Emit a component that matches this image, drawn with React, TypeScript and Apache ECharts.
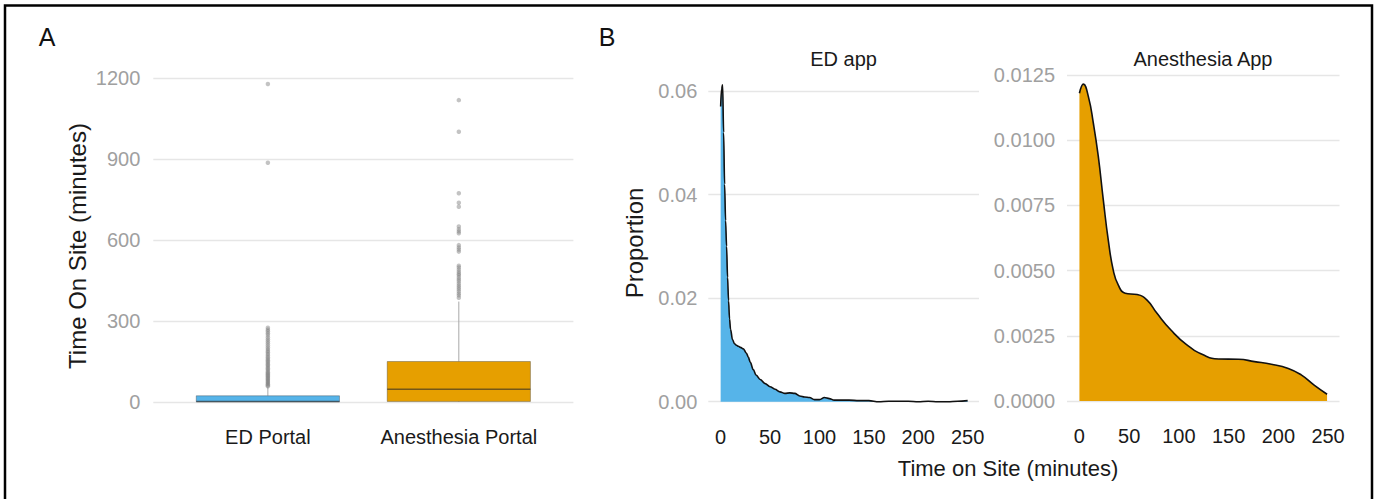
import React, { useEffect, useRef } from "react";
import * as echarts from "echarts";

// ---------- Panel A: box plot data ----------
const portalCategories = ["ED Portal", "Anesthesia Portal"];
// [lower whisker, Q1, median, Q3, upper whisker]
const edPortalBox = [0, 1, 2, 23, 55];
const anesPortalBox = [0, 2, 47, 150, 372];
const edPortalOutliers = [
  58, 62, 66, 70, 74, 78, 82, 86, 90, 94, 98, 102, 106, 110, 115, 120, 125, 130, 135, 140,
  145, 150, 155, 160, 166, 172, 178, 184, 190, 196, 203, 210, 218, 225, 232, 240, 248, 255,
  262, 268, 275, 886, 1178,
];
const anesPortalOutliers = [
  386, 395, 402, 410, 418, 425, 432, 440, 448, 455, 462, 470, 475, 482, 490, 498, 505,
  557, 565, 572, 581, 625, 632, 640, 650, 723, 738, 773, 1001, 1118,
];
const portalTicks = [0, 300, 600, 900, 1200];

// ---------- Panel B: density data ----------
const timeTicks = [0, 50, 100, 150, 200, 250];
const edAppX = [
  0, 1, 2, 3, 4, 5, 6, 7, 8, 9, 10, 12, 14, 16, 18, 20, 23, 26, 28, 30, 33, 36, 40, 45, 50,
  55, 60, 65, 70, 75, 80, 85, 90, 95, 100, 105, 110, 115, 120, 130, 140, 150, 160, 170, 180,
  190, 200, 210, 220, 230, 240, 250,
];
const edAppY = [
  0.057, 0.0605, 0.0612, 0.052, 0.042, 0.035, 0.03, 0.024, 0.0195, 0.016, 0.014, 0.012,
  0.0112, 0.0109, 0.0107, 0.0105, 0.0102, 0.0094, 0.0086, 0.0076, 0.0062, 0.0051, 0.0043,
  0.0035, 0.0029, 0.0024, 0.0019, 0.0016, 0.0017, 0.0016, 0.0011, 0.0009, 0.0008, 0.0004,
  0.0004, 0.0008, 0.0006, 0.0003, 0.0003, 0.0003, 0.0002, 0.0002, 0.0, 0.0001, 0.0001,
  0.0001, 0.0, 0.0001, 0.0, 0.0, 0.0001, 0.0002,
];
const anesAppX = [
  0, 4, 9, 14, 19, 24, 29, 34, 39, 46, 58, 68, 78, 92, 108, 125, 140, 160, 176, 193, 210,
  223, 236, 249,
];
const anesAppY = [
  0.0118, 0.01215, 0.01167, 0.01065, 0.00937, 0.00771, 0.00617, 0.00502, 0.00445, 0.00413,
  0.00408, 0.00387, 0.00336, 0.00272, 0.00215, 0.00176, 0.00161, 0.0016, 0.00151, 0.00141,
  0.00125, 0.001, 0.00061, 0.00026,
];

const BLUE = "#56B4E9";
const ORANGE = "#E69F00";
const FONT = "'Liberation Sans', Arial, Helvetica, sans-serif";
const GRID_LINE = { lineStyle: { color: "#e6e6e6", width: 1.3 } };

export default function App() {
  const ref = useRef<HTMLDivElement>(null);

  useEffect(() => {
    if (!ref.current) return;
    const chart = echarts.init(ref.current, undefined, { renderer: "svg" });

    const boxData = [
      [1, ...edPortalBox],
      [2, ...anesPortalBox],
    ];
    const boxFills = [BLUE, ORANGE];

    const outlierData = [
      ...edPortalOutliers.map((v) => [1, v]),
      ...anesPortalOutliers.map((v) => [2, v]),
    ];

    const timeAxis = (gridIndex: number) => ({
      type: "value",
      gridIndex,
      min: -12.5,
      max: 261.5,
      axisLine: { show: false },
      axisTick: { show: false },
      splitLine: { show: false },
      axisLabel: {
        customValues: timeTicks,
        color: "#1a1a1a",
        fontSize: 20,
        fontFamily: FONT,
        margin: 25,
      },
    });

    const option: any = {
      animation: false,
      textStyle: { fontFamily: FONT },
      grid: [
        { left: 153.3, width: 420.1, top: 78, height: 324 },
        { left: 708.3, width: 270.7, top: 91, height: 310.7 },
        { left: 1067, width: 272.5, top: 75, height: 326 },
      ],
      xAxis: [
        {
          type: "value",
          gridIndex: 0,
          min: 0.4,
          max: 2.6,
          axisLine: { show: false },
          axisTick: { show: false },
          splitLine: { show: false },
          axisLabel: {
            customValues: [1, 2],
            formatter: (v: number) => portalCategories[Math.round(v) - 1] ?? "",
            color: "#1a1a1a",
            fontSize: 20,
            fontFamily: FONT,
            margin: 25,
          },
        },
        timeAxis(1),
        timeAxis(2),
      ],
      yAxis: [
        {
          type: "value",
          gridIndex: 0,
          min: 0,
          max: 1200,
          interval: 300,
          axisLine: { show: false },
          axisTick: { show: false },
          splitLine: GRID_LINE,
          axisLabel: {
            customValues: portalTicks,
            formatter: (v: number) => String(v),
            color: "#a0a0a0",
            fontSize: 20,
            fontFamily: FONT,
            margin: 13,
          },
        },
        {
          type: "value",
          gridIndex: 1,
          min: 0,
          max: 0.06,
          interval: 0.02,
          axisLine: { show: false },
          axisTick: { show: false },
          splitLine: GRID_LINE,
          axisLabel: {
            color: "#a0a0a0",
            fontSize: 20,
            fontFamily: FONT,
            margin: 11,
            formatter: (v: number) => v.toFixed(2),
          },
        },
        {
          type: "value",
          gridIndex: 2,
          min: 0,
          max: 0.0125,
          interval: 0.0025,
          axisLine: { show: false },
          axisTick: { show: false },
          splitLine: GRID_LINE,
          axisLabel: {
            color: "#a0a0a0",
            fontSize: 20,
            fontFamily: FONT,
            margin: 12,
            formatter: (v: number) => v.toFixed(4),
          },
        },
      ],
      series: [
        {
          type: "custom",
          xAxisIndex: 0,
          yAxisIndex: 0,
          data: boxData,
          clip: false,
          renderItem: (params: any, api: any) => {
            const x = api.value(0);
            const lo = api.value(1);
            const q1 = api.value(2);
            const med = api.value(3);
            const q3 = api.value(4);
            const hi = api.value(5);
            const left = api.coord([x - 0.375, q1]);
            const right = api.coord([x + 0.375, q3]);
            const c = api.coord([x, med]);
            const pLo = api.coord([x, lo]);
            const pHi = api.coord([x, hi]);
            const fill = boxFills[params.dataIndex];
            return {
              type: "group",
              children: [
                {
                  type: "line",
                  shape: { x1: pHi[0], y1: pHi[1], x2: c[0], y2: right[1] },
                  style: { stroke: "#a8a8a8", lineWidth: 1 },
                },
                {
                  type: "line",
                  shape: { x1: pLo[0], y1: pLo[1], x2: c[0], y2: left[1] },
                  style: { stroke: "#a8a8a8", lineWidth: 1 },
                },
                {
                  type: "rect",
                  shape: {
                    x: left[0],
                    y: right[1],
                    width: right[0] - left[0],
                    height: left[1] - right[1],
                  },
                  style: { fill, stroke: "rgba(50,50,50,0.35)", lineWidth: 1 },
                },
                {
                  type: "line",
                  shape: { x1: left[0], y1: c[1], x2: right[0], y2: c[1] },
                  style: { stroke: "rgba(40,40,40,0.6)", lineWidth: 1.5 },
                },
              ],
            };
          },
          z: 2,
        },
        {
          type: "scatter",
          xAxisIndex: 0,
          yAxisIndex: 0,
          data: outlierData,
          symbolSize: 4.5,
          itemStyle: { color: "rgba(130,130,130,0.6)" },
          z: 3,
        },
        {
          type: "line",
          xAxisIndex: 1,
          yAxisIndex: 1,
          data: edAppX.map((x, i) => [x, edAppY[i]]),
          smooth: 0.35,
          smoothMonotone: "x",
          showSymbol: false,
          clip: false,
          lineStyle: { color: "#111", width: 1.6 },
          areaStyle: { color: BLUE, opacity: 1 },
        },
        {
          type: "line",
          xAxisIndex: 2,
          yAxisIndex: 2,
          data: anesAppX.map((x, i) => [x, anesAppY[i]]),
          smooth: 0.5,
          showSymbol: false,
          clip: false,
          lineStyle: { color: "#111", width: 1.6 },
          areaStyle: { color: ORANGE, opacity: 1 },
        },
      ],
      graphic: [
        {
          type: "rect",
          shape: { x: 5, y: 5.5, width: 1367, height: 510 },
          style: { fill: "none", stroke: "#000", lineWidth: 2.5 },
          silent: true,
        },
        {
          type: "text",
          x: 47,
          y: 37,
          style: { text: "A", fontSize: 25, fill: "#111", align: "center", verticalAlign: "middle", fontFamily: FONT },
        },
        {
          type: "text",
          x: 607,
          y: 37,
          style: { text: "B", fontSize: 25, fill: "#111", align: "center", verticalAlign: "middle", fontFamily: FONT },
        },
        {
          type: "text",
          x: 843.6,
          y: 59,
          style: { text: "ED app", fontSize: 20, fill: "#1a1a1a", align: "center", verticalAlign: "middle", fontFamily: FONT },
        },
        {
          type: "text",
          x: 1203,
          y: 59,
          style: { text: "Anesthesia App", fontSize: 20, fill: "#1a1a1a", align: "center", verticalAlign: "middle", fontFamily: FONT },
        },
        {
          type: "text",
          x: 77,
          y: 246,
          rotation: Math.PI / 2,
          style: { text: "Time On Site (minutes)", fontSize: 24, fill: "#1a1a1a", align: "center", verticalAlign: "middle", fontFamily: FONT },
        },
        {
          type: "text",
          x: 634,
          y: 243,
          rotation: Math.PI / 2,
          style: { text: "Proportion", fontSize: 24, fill: "#1a1a1a", align: "center", verticalAlign: "middle", fontFamily: FONT },
        },
        {
          type: "text",
          x: 1008,
          y: 468,
          style: { text: "Time on Site (minutes)", fontSize: 22, fill: "#1a1a1a", align: "center", verticalAlign: "middle", fontFamily: FONT },
        },
      ],
    };

    chart.setOption(option);
    return () => chart.dispose();
  }, []);

  return (
    <div
      ref={ref}
      style={{ position: "fixed", left: 0, top: 0, width: 1378, height: 499, background: "#fff" }}
    />
  );
}
